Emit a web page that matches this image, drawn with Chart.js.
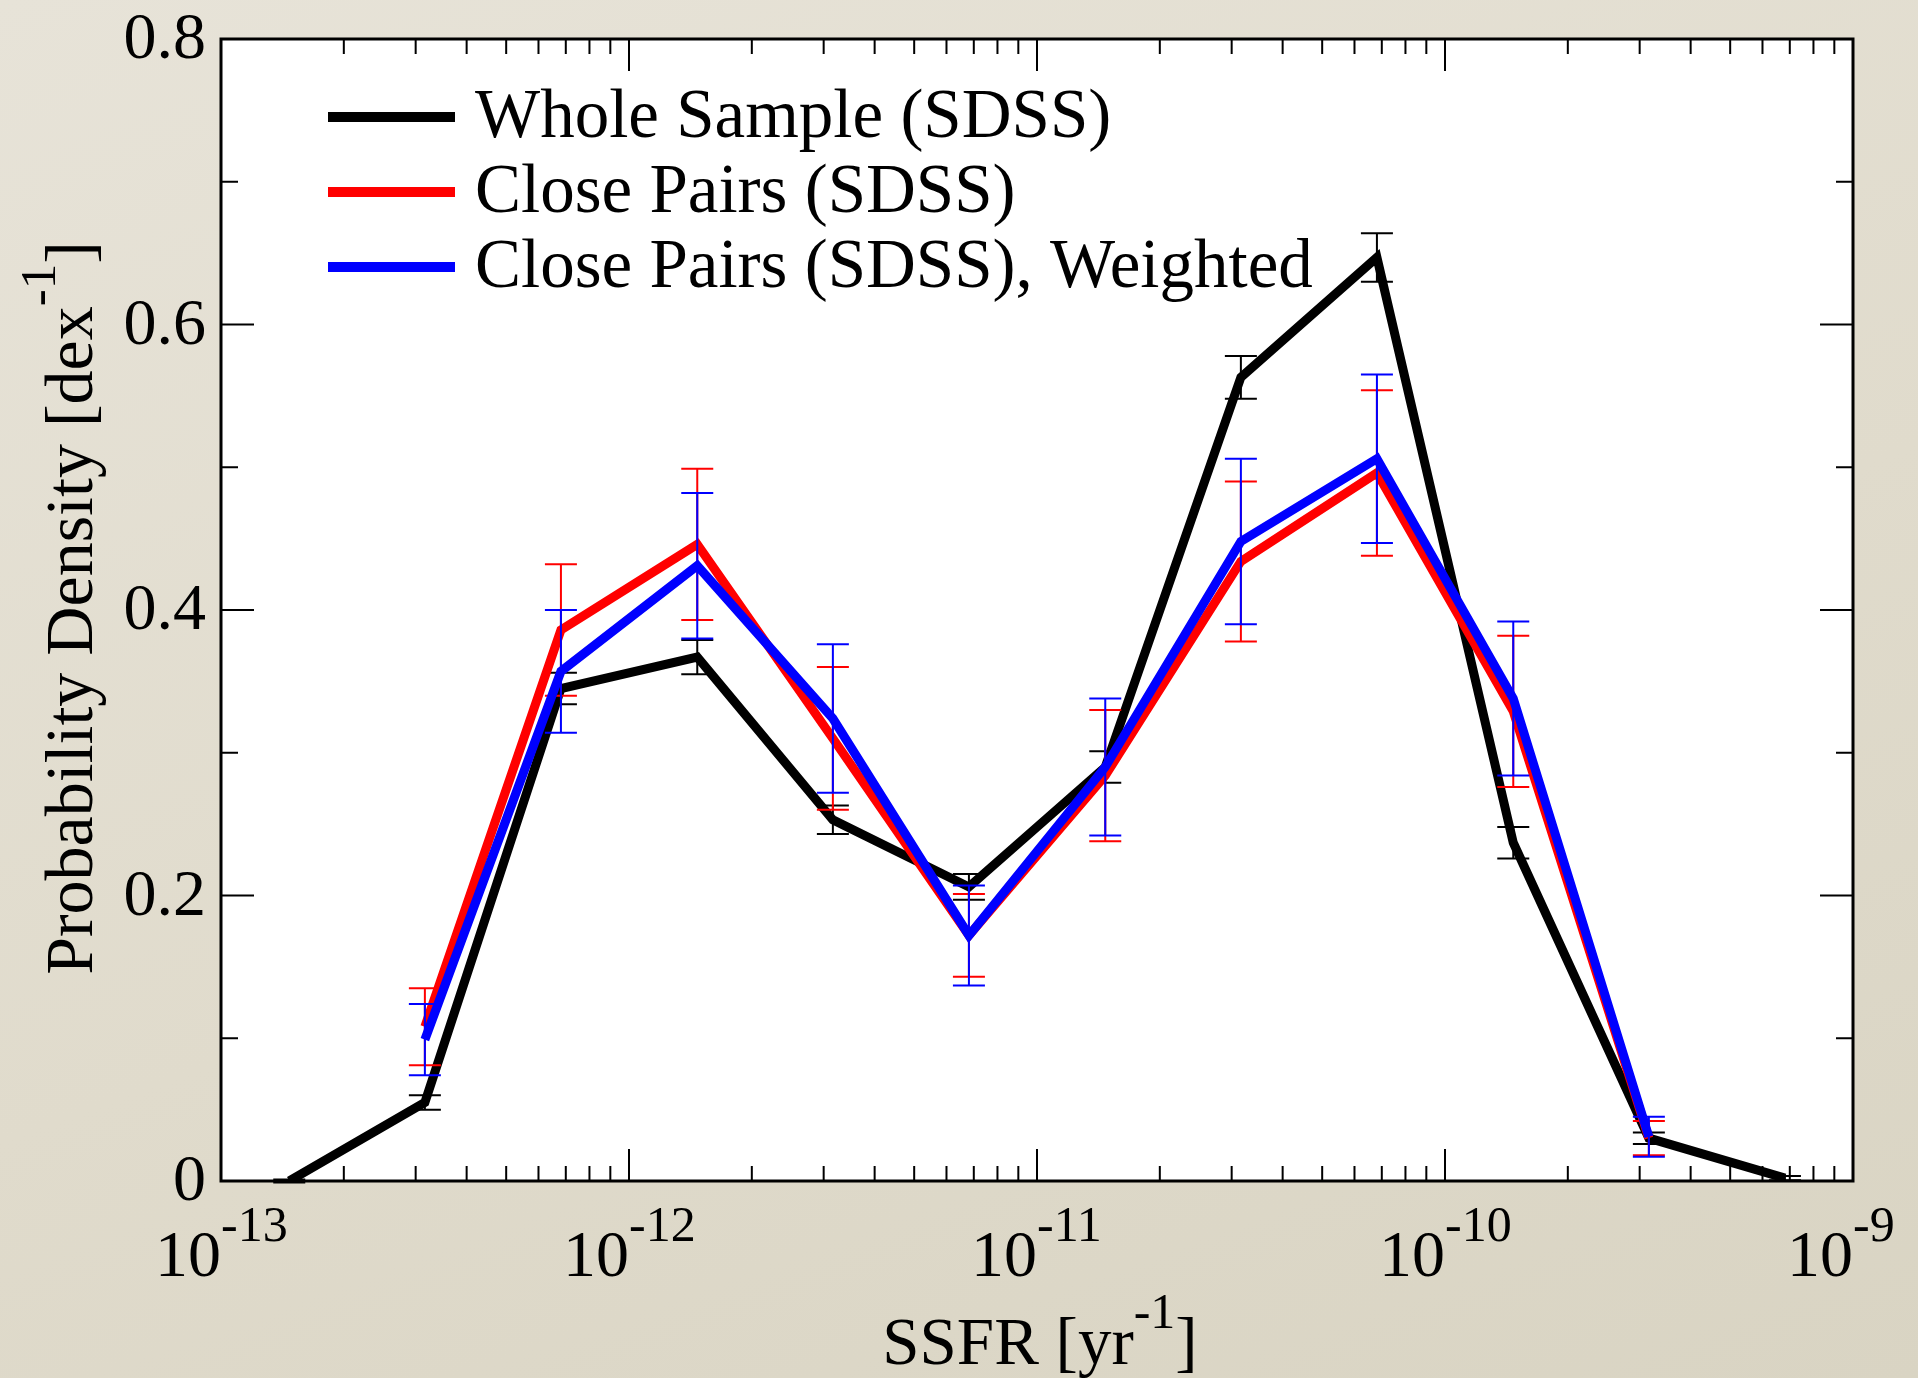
<!DOCTYPE html>
<html>
<head>
<meta charset="utf-8">
<title>SSFR distribution</title>
<script src="https://cdn.jsdelivr.net/npm/chart.js@4.4.1/dist/chart.umd.min.js"></script>
<style>
  html, body {
    margin: 0;
    padding: 0;
    background: linear-gradient(160deg, #e7e3d8 0%, #e0dbcc 55%, #d9d4c3 100%);
  }
  #wrap {
    position: relative;
    width: 1918px;
    height: 1378px;
  }
</style>
</head>
<body>
<div id="wrap"><canvas id="ssfrChart"></canvas></div>
<script>
// SSFR bin centres [yr^-1] (1/3 dex bins)
const ssfrBins = [1.47e-13, 3.16e-13, 6.81e-13, 1.47e-12, 3.16e-12, 6.81e-12,
                  1.47e-11, 3.16e-11, 6.81e-11, 1.47e-10, 3.16e-10, 6.81e-10];

// Whole sample (SDSS)
const wholeSample = [0.000, 0.055, 0.345, 0.367, 0.253, 0.206, 0.290, 0.563, 0.647, 0.237, 0.030, 0.002];
const wholeErr    = [0.001, 0.005, 0.011, 0.012, 0.010, 0.009, 0.011, 0.015, 0.017, 0.011, 0.004, 0.0015];

// Close pairs (SDSS)
const closePairs    = [null, 0.108, 0.386, 0.446, 0.310, 0.172, 0.284, 0.434, 0.496, 0.329, 0.030, null];
const closePairsErr = [null, 0.027, 0.046, 0.053, 0.050, 0.029, 0.046, 0.056, 0.058, 0.053, 0.012, null];

// Close pairs (SDSS), weighted
const closeWeighted    = [null, 0.099, 0.357, 0.431, 0.324, 0.172, 0.290, 0.448, 0.506, 0.338, 0.031, null];
const closeWeightedErr = [null, 0.025, 0.043, 0.051, 0.052, 0.035, 0.048, 0.058, 0.059, 0.054, 0.014, null];

// tick values
const yMajorTicks = [0, 0.2, 0.4, 0.6, 0.8];
const yMinorTicks = [0.1, 0.3, 0.5, 0.7];
const xDecades = [-13, -12, -11, -10, -9];

const legendLabels = ["Whole Sample (SDSS)", "Close Pairs (SDSS)", "Close Pairs (SDSS), Weighted"];

const SERIF = '"Liberation Serif", "DejaVu Serif", serif';

function toPoints(values) {
  return ssfrBins.map((x, i) => ({ x: x, y: values[i] }));
}

// draws text with a raised exponent; "baseRight" puts the base's right edge at x
function drawSupText(ctx, base, sup, x, y, align, size, supSize, raise) {
  ctx.font = size + "px " + SERIF;
  const wBase = ctx.measureText(base).width;
  ctx.font = supSize + "px " + SERIF;
  const wSup = ctx.measureText(sup).width;
  let startX = x;
  if (align === "center") startX = x - (wBase + wSup) / 2;
  if (align === "baseRight") startX = x - wBase;
  ctx.font = size + "px " + SERIF;
  ctx.fillText(base, startX, y);
  ctx.font = supSize + "px " + SERIF;
  ctx.fillText(sup, startX + wBase, y - raise);
}

// axis title of the form "text^-1]" centred on cx
function drawUnitTitle(ctx, t1, t2, t3, cx, y, size, supSize, raise) {
  ctx.font = size + "px " + SERIF;
  const w1 = ctx.measureText(t1).width;
  const w3 = ctx.measureText(t3).width;
  ctx.font = supSize + "px " + SERIF;
  const w2 = ctx.measureText(t2).width;
  const sx = cx - (w1 + w2 + w3) / 2;
  ctx.font = size + "px " + SERIF;
  ctx.fillText(t1, sx, y);
  ctx.font = supSize + "px " + SERIF;
  ctx.fillText(t2, sx + w1, y - raise);
  ctx.font = size + "px " + SERIF;
  ctx.fillText(t3, sx + w1 + w2, y);
}

// error bars, drawn right after each line
const errorBars = {
  id: "errorBars",
  afterDatasetDraw(chart, args) {
    const ds = chart.data.datasets[args.index];
    if (!ds.errors) return;
    const ctx = chart.ctx;
    const xs = chart.scales.x, ys = chart.scales.y;
    ctx.save();
    ctx.strokeStyle = ds.borderColor;
    ctx.lineWidth = 2;
    ds.data.forEach((p, i) => {
      const e = ds.errors[i];
      if (p.y === null || e === null) return;
      const px = xs.getPixelForValue(p.x);
      const top = ys.getPixelForValue(p.y + e);
      const bot = ys.getPixelForValue(p.y - e);
      ctx.beginPath();
      ctx.moveTo(px, top); ctx.lineTo(px, bot);
      ctx.moveTo(px - 16, top); ctx.lineTo(px + 16, top);
      ctx.moveTo(px - 16, bot); ctx.lineTo(px + 16, bot);
      ctx.stroke();
    });
    ctx.restore();
  },
};

// frame, inward ticks, labels, titles and legend
const frameAndText = {
  id: "frameAndText",
  beforeDraw(chart) {
    const { ctx, chartArea: a } = chart;
    ctx.save();
    ctx.fillStyle = "#ffffff";
    ctx.fillRect(a.left, a.top, a.right - a.left, a.bottom - a.top);
    ctx.restore();
  },
  afterDraw(chart) {
    const { ctx, chartArea: a } = chart;
    const xs = chart.scales.x, ys = chart.scales.y;
    ctx.save();
    ctx.strokeStyle = "#000";
    ctx.fillStyle = "#000";

    // ticks on all four sides, pointing inward
    ctx.lineWidth = 2;
    ctx.beginPath();
    yMajorTicks.concat(yMinorTicks).forEach((v) => {
      const len = yMajorTicks.includes(v) ? 33 : 17;
      const py = ys.getPixelForValue(v);
      ctx.moveTo(a.left, py); ctx.lineTo(a.left + len, py);
      ctx.moveTo(a.right, py); ctx.lineTo(a.right - len, py);
    });
    xDecades.forEach((d) => {
      for (let m = 1; m <= 9; m++) {
        const v = m * Math.pow(10, d);
        if (v > 1.0001e-9) break;
        const len = m === 1 ? 32 : 15;
        const px = xs.getPixelForValue(v);
        ctx.moveTo(px, a.bottom); ctx.lineTo(px, a.bottom - len);
        ctx.moveTo(px, a.top); ctx.lineTo(px, a.top + len);
      }
    });
    ctx.stroke();

    // frame
    ctx.lineWidth = 3;
    ctx.strokeRect(a.left, a.top, a.right - a.left, a.bottom - a.top);

    // y tick labels
    ctx.font = "66px " + SERIF;
    ctx.textAlign = "right";
    ctx.textBaseline = "middle";
    yMajorTicks.forEach((v) => {
      ctx.fillText(v === 0 ? "0" : v.toFixed(1), a.left - 15, ys.getPixelForValue(v) + 2);
    });

    // x tick labels 10^n
    ctx.textAlign = "left";
    ctx.textBaseline = "alphabetic";
    xDecades.forEach((d) => {
      const px = xs.getPixelForValue(Math.pow(10, d));
      drawSupText(ctx, "10", String(d), px, a.bottom + 95, "baseRight", 66, 50, 35);
    });

    // x axis title
    drawUnitTitle(ctx, "SSFR [yr", "-1", "]", (a.left + a.right) / 2 + 3, 1364, 67, 50, 36);

    // y axis title (rotated)
    ctx.save();
    ctx.translate(92, (a.top + a.bottom) / 2 - 2);
    ctx.rotate(-Math.PI / 2);
    drawUnitTitle(ctx, "Probability Density [dex", "-1", "]", 0, 0, 68, 51, 37);
    ctx.restore();

    // legend
    const legendColors = ["#000000", "#ff0000", "#0000ff"];
    ctx.font = "69px " + SERIF;
    legendLabels.forEach((label, i) => {
      const ly = 117 + i * 75;
      ctx.strokeStyle = legendColors[i];
      ctx.lineWidth = 10;
      ctx.beginPath();
      ctx.moveTo(328, ly); ctx.lineTo(455, ly);
      ctx.stroke();
      ctx.fillStyle = "#000";
      ctx.fillText(label, 475, ly + 20);
    });

    ctx.restore();
  },
};

const ctx = document.getElementById("ssfrChart").getContext("2d");

new Chart(ctx, {
  type: "line",
  data: {
    datasets: [
      {
        label: legendLabels[0],
        data: toPoints(wholeSample),
        errors: wholeErr,
        borderColor: "#000000",
        borderWidth: 9,
        order: 3,
      },
      {
        label: legendLabels[1],
        data: toPoints(closePairs),
        errors: closePairsErr,
        borderColor: "#ff0000",
        borderWidth: 9,
        order: 2,
      },
      {
        label: legendLabels[2],
        data: toPoints(closeWeighted),
        errors: closeWeightedErr,
        borderColor: "#0000ff",
        borderWidth: 9,
        order: 1,
      },
    ],
  },
  options: {
    responsive: true,
    maintainAspectRatio: false,
    animation: false,
    layout: {
      padding: { left: 221, right: 65, top: 39, bottom: 197 },
    },
    elements: {
      point: { radius: 0, hoverRadius: 0 },
      line: { tension: 0, borderJoinStyle: "miter", fill: false },
    },
    plugins: {
      legend: { display: false },
      tooltip: { enabled: false },
    },
    scales: {
      x: {
        type: "logarithmic",
        min: 1e-13,
        max: 1e-9,
        display: false,
      },
      y: {
        type: "linear",
        min: 0,
        max: 0.8,
        display: false,
      },
    },
  },
  plugins: [errorBars, frameAndText],
});
</script>
</body>
</html>
